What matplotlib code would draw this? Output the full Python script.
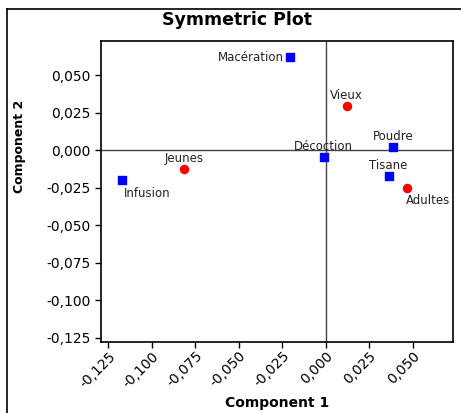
import matplotlib.pyplot as plt
from matplotlib.ticker import FuncFormatter

# column points (blue squares) and row points (red circles)
sq_names = ['Macération', 'Poudre', 'Décoction', 'Infusion', 'Tisane']
sq_x = [-0.0203, 0.0389, -0.0012, -0.1170, 0.0362]
sq_y = [0.0618, 0.0020, -0.0045, -0.0202, -0.0171]

ci_names = ['Vieux', 'Jeunes', 'Adultes']
ci_x = [0.0121, -0.0814, 0.0469]
ci_y = [0.0295, -0.0125, -0.0256]

xticks = [-0.125, -0.100, -0.075, -0.050, -0.025, 0.000, 0.025, 0.050]
yticks = [0.050, 0.025, 0.000, -0.025, -0.050, -0.075, -0.100, -0.125]

fig = plt.figure(figsize=(4.61, 4.13), dpi=100)
ax = fig.add_axes([101 / 461, 1 - 342 / 413, 352 / 461, 301 / 413])

ax.axhline(0, color='#444444', lw=1, zorder=1)
ax.axvline(0, color='#444444', lw=1, zorder=1)

ax.scatter(sq_x, sq_y, marker='s', s=38, color='#0000ff', zorder=3)
ax.scatter(ci_x, ci_y, marker='o', s=34, color='#ff0000', zorder=3)

# label offsets in points (dx, dy, ha, va)
sq_off = {
    'Macération': (-5, 0, 'right', 'center'),
    'Poudre': (0, 3, 'center', 'bottom'),
    'Décoction': (0, 3, 'center', 'bottom'),
    'Infusion': (1, -5, 'left', 'top'),
    'Tisane': (0, 3, 'center', 'bottom'),
}
ci_off = {
    'Vieux': (0, 3, 'center', 'bottom'),
    'Jeunes': (0, 3, 'center', 'bottom'),
    'Adultes': (-1, -4, 'left', 'top'),
}
for n, x, y in zip(sq_names, sq_x, sq_y):
    dx, dy, ha, va = sq_off[n]
    ax.annotate(n, (x, y), xytext=(dx, dy), textcoords='offset points',
                ha=ha, va=va, fontsize=8.5, color='#222222')
for n, x, y in zip(ci_names, ci_x, ci_y):
    dx, dy, ha, va = ci_off[n]
    ax.annotate(n, (x, y), xytext=(dx, dy), textcoords='offset points',
                ha=ha, va=va, fontsize=8.5, color='#222222')

ax.set_xlim(-0.1292, 0.0732)
ax.set_ylim(-0.128, 0.0727)
ax.set_xticks(xticks)
ax.set_yticks(yticks)
fmt = FuncFormatter(lambda v, p: ('%.3f' % v).replace('.', ','))
ax.xaxis.set_major_formatter(fmt)
ax.yaxis.set_major_formatter(fmt)
ax.tick_params(labelsize=10, length=4, width=1, direction='out')
ax.tick_params(axis='x', pad=1)
plt.setp(ax.get_xticklabels(), rotation=45, ha='right', rotation_mode='anchor')
for s in ax.spines.values():
    s.set_linewidth(1.2)

xl = ax.set_xlabel('Component 1', fontsize=10, fontweight='bold')
xl.set_va('center')
ax.xaxis.set_label_coords(0.5, -(403 - 342) / 301)
yl = ax.set_ylabel('Component 2', fontsize=9, fontweight='bold')
yl.set_va('center')
ax.yaxis.set_label_coords(-(101 - 20) / 352, (342 - 146) / 301)
fig.text(237.5 / 461, 1 - 20 / 413, 'Symmetric Plot', ha='center', va='center',
         fontsize=12.5, fontweight='bold')

# outer frame edges visible in the crop
fig.add_artist(plt.Line2D([7 / 461, 7 / 461], [0, 1 - 9 / 413], color='black', lw=1.2))
fig.add_artist(plt.Line2D([7 / 461, 1], [1 - 9 / 413, 1 - 9 / 413], color='black', lw=1.2))

fig.savefig('out.png', dpi=100)
